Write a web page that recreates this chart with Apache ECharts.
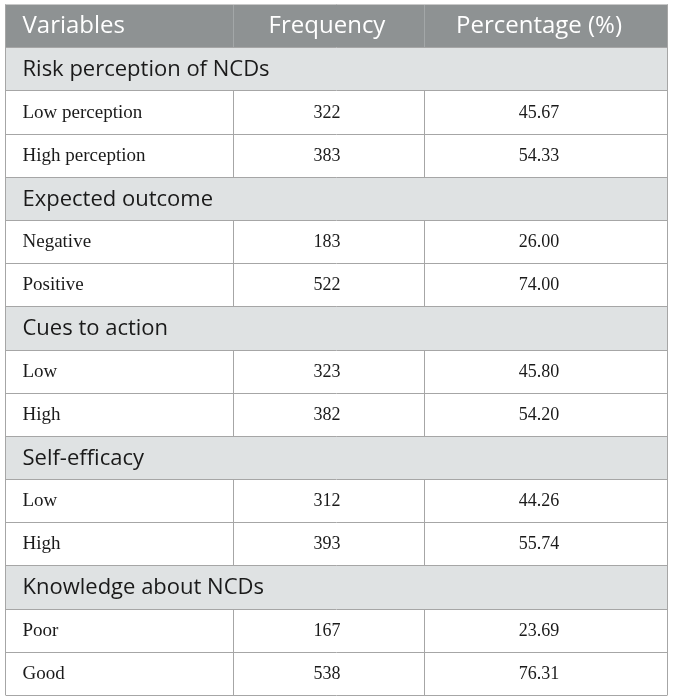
<!DOCTYPE html>
<html>
<head>
<meta charset="utf-8">
<script src="https://cdn.jsdelivr.net/npm/echarts@6/dist/echarts.min.js"></script>
<style>
  html, body { margin: 0; padding: 0; background: #fff; }
  #main { width: 673px; height: 700px; }
</style>
</head>
<body>
<div id="main"></div>
<script>
// table content
const headers = ['Variables', 'Frequency', 'Percentage (%)'];
const groups = ['Risk perception of NCDs', 'Expected outcome', 'Cues to action', 'Self-efficacy', 'Knowledge about NCDs'];
const levels = [
  ['Low perception', 'High perception'],
  ['Negative', 'Positive'],
  ['Low', 'High'],
  ['Low', 'High'],
  ['Poor', 'Good']
];
const frequency = [[322, 383], [183, 522], [323, 382], [312, 393], [167, 538]];
const percentage = [[45.67, 54.33], [26.00, 74.00], [45.80, 54.20], [44.26, 55.74], [23.69, 76.31]];

// column widths (relative) and a small nudge of centred text per column
const colShare = [228, 190, 243];
const colNudge = [0, -2, -7];

// flatten into table rows
const rows = [{ kind: 'head', cells: headers }];
groups.forEach((g, i) => {
  rows.push({ kind: 'group', cells: [g] });
  levels[i].forEach((lv, j) => {
    rows.push({ kind: 'data', cells: [lv, String(frequency[i][j]), percentage[i][j].toFixed(2)] });
  });
});

const SANS = '"Open Sans", "Noto Sans", sans-serif';
const SERIF = '"Liberation Serif", "DejaVu Serif", serif';
const LINE = '#a6a6a6';

const total = colShare.reduce((s, v) => s + v, 0);
const edges = [0];
colShare.forEach(w => edges.push(edges[edges.length - 1] + w / total));

function fontFor(kind, k) {
  if (kind === 'head') return '24px ' + SANS;
  if (kind === 'group') return '22px ' + SANS;
  return (k === 0 ? '19px ' : '18px ') + SERIF;
}

function renderRow(params, api) {
  const r = rows[api.value(1)];
  const c = api.coord([0, api.value(1)]);
  const band = api.size([0, 1])[1];
  const x0 = api.coord([0, 0])[0];
  const x1 = api.coord([1, 0])[0];
  const top = Math.round(c[1] - band / 2);
  const bot = Math.round(c[1] + band / 2);
  const h = bot - top;
  const xs = edges.map(e => Math.round(x0 + (x1 - x0) * e) + 0.5);
  const kids = [];
  const fill = r.kind === 'head' ? '#8e9293' : (r.kind === 'group' ? '#dfe2e3' : '#ffffff');
  kids.push({ type: 'rect', z2: 0, shape: { x: xs[0], y: top, width: xs[3] - xs[0], height: h }, style: { fill: fill } });
  if (r.kind !== 'group') {
    [1, 2].forEach(k => kids.push({
      type: 'line', z2: 10, shape: { x1: xs[k], y1: top, x2: xs[k], y2: bot },
      style: { stroke: r.kind === 'head' ? '#a3a7a8' : LINE, lineWidth: 1 }
    }));
  }
  // bottom rule and sides
  kids.push({ type: 'line', z2: 10, shape: { x1: xs[0], y1: bot + 0.5, x2: xs[3], y2: bot + 0.5 }, style: { stroke: LINE, lineWidth: 1 } });
  kids.push({ type: 'line', z2: 10, shape: { x1: xs[0], y1: top, x2: xs[0], y2: bot }, style: { stroke: LINE, lineWidth: 1 } });
  kids.push({ type: 'line', z2: 10, shape: { x1: xs[3], y1: top, x2: xs[3], y2: bot }, style: { stroke: LINE, lineWidth: 1 } });
  if (r.kind === 'head') {
    kids.push({ type: 'line', z2: 10, shape: { x1: xs[0], y1: top + 0.5, x2: xs[3], y2: top + 0.5 }, style: { stroke: '#c9c9c9', lineWidth: 1 } });
  }
  const mid = (top + bot) / 2 + 1;
  r.cells.forEach((t, k) => {
    const isFirst = k === 0;
    kids.push({
      type: 'text',
      z2: 20,
      style: {
        text: t,
        x: isFirst ? xs[0] + 17 : (xs[k] + xs[k + 1]) / 2 + colNudge[k],
        y: mid,
        align: isFirst ? 'left' : 'center',
        verticalAlign: 'middle',
        fill: r.kind === 'head' ? '#ffffff' : '#1a1a1a',
        font: fontFor(r.kind, k)
      }
    });
  });
  return { type: 'group', children: kids };
}

const chart = echarts.init(document.getElementById('main'));
chart.setOption({
  animation: false,
  grid: { left: 5, right: 6, top: 4, bottom: 5 },
  xAxis: { type: 'value', min: 0, max: 1, show: false },
  yAxis: { type: 'category', inverse: true, data: rows.map(r => r.cells[0]), show: false },
  series: [{
    type: 'custom',
    renderItem: renderRow,
    data: rows.map((r, i) => [0, i]),
    encode: { x: 0, y: 1 },
    silent: true,
    clip: false
  }]
});
</script>
</body>
</html>
